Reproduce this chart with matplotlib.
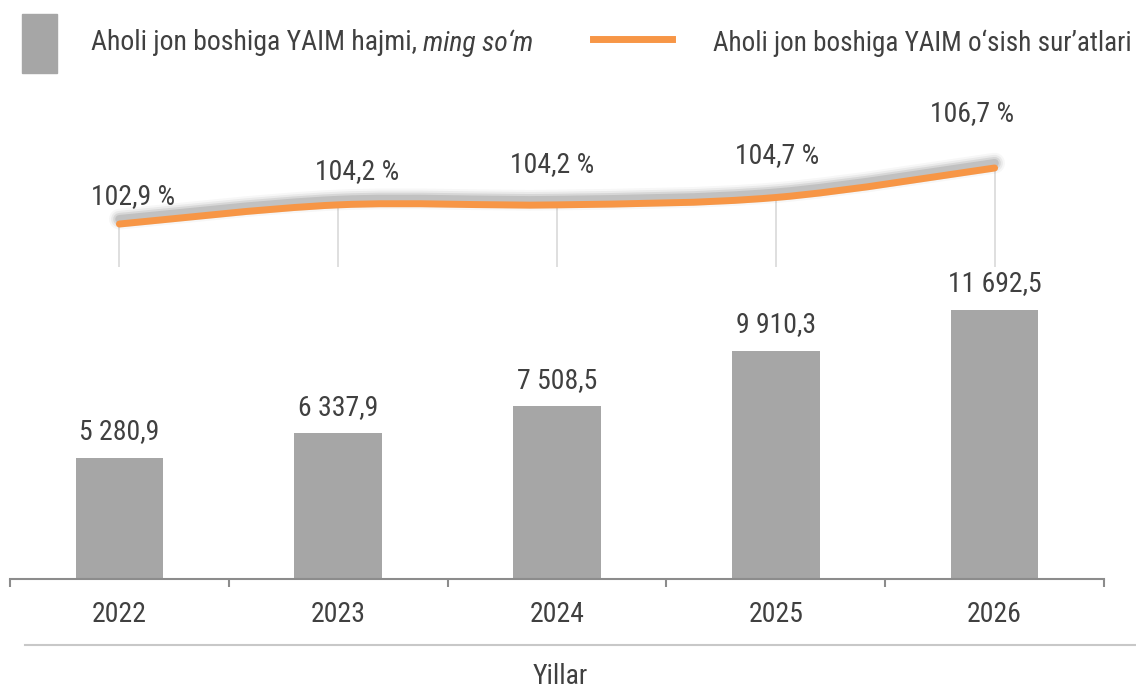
import matplotlib
matplotlib.use("Agg")
import matplotlib.pyplot as plt
import matplotlib.patheffects as pe
from matplotlib.path import Path
from matplotlib.patches import PathPatch, Rectangle
from matplotlib.lines import Line2D
import numpy as np

plt.rcParams['font.family'] = ['Roboto Condensed', 'Roboto', 'DejaVu Sans']

years = ['2022', '2023', '2024', '2025', '2026']
gdp_per_capita = [5280.9, 6337.9, 7508.5, 9910.3, 11692.5]
growth = [102.9, 104.2, 104.2, 104.7, 106.7]
bar_labels = ['5 280,9', '6 337,9', '7 508,5', '9 910,3', '11 692,5']
growth_labels = ['102,9 %', '104,2 %', '104,2 %', '104,7 %', '106,7 %']

W, H = 1136, 691
GRAY = '#A6A6A6'
ORANGE = '#F79646'
TXT = '#404040'
FS = 20

fig = plt.figure(figsize=(W / 100, H / 100), dpi=100)


def fx(px):
    return px / W


def fy(py):
    return 1 - py / H


ax = fig.add_axes([fx(10), fy(579), 1094 / W, 499 / H])
x = np.arange(len(years))
ax.bar(x, gdp_per_capita, width=0.40, color=GRAY, zorder=2)
ax.set_xlim(-0.5, 4.5)
ax.set_ylim(0, 21690)
for xi, v, lab in zip(x, gdp_per_capita, bar_labels):
    ax.annotate(lab, (xi, v), xytext=(0, 26), textcoords='offset pixels',
                ha='center', va='center', fontsize=FS, color=TXT)

for s in ['top', 'right', 'left']:
    ax.spines[s].set_visible(False)
ax.spines['bottom'].set_color('#8C8C8C')
ax.spines['bottom'].set_linewidth(1.5)
ax.set_yticks([])
ax.set_xticks(x)
ax.set_xticklabels(years, fontsize=FS, color=TXT)
ax.tick_params(axis='x', which='major', length=0, pad=16)
ax.set_xticks(np.arange(-0.5, 5, 1), minor=True)
ax.tick_params(axis='x', which='minor', length=6, width=1.5, color='#8C8C8C',
               direction='out')

# growth line on a twin axis
ax2 = ax.twinx()
ax2.set_ylim(78.82, 112.67)
ax2.set_xlim(-0.5, 4.5)
ax2.axis('off')
ax2.vlines(x, 100, growth, color='#D9D9D9', lw=1.2, zorder=1)

pts = np.column_stack([x, growth]).astype(float)
ext = np.vstack([pts[0], pts, pts[-1]])
verts = [pts[0]]
codes = [Path.MOVETO]
for i in range(len(pts) - 1):
    p0, p1, p2, p3 = ext[i], ext[i + 1], ext[i + 2], ext[i + 3]
    verts += [p1 + (p2 - p0) / 6, p2 - (p3 - p1) / 6, p2]
    codes += [Path.CURVE4] * 3
curve = PathPatch(Path(verts, codes), fill=False, edgecolor=ORANGE, lw=5,
                  capstyle='round', zorder=3)
curve.set_path_effects([
    pe.Stroke(offset=(0, 3.5), linewidth=15, foreground='#000000', alpha=0.03),
    pe.Stroke(offset=(0, 3.5), linewidth=12, foreground='#000000', alpha=0.05),
    pe.Stroke(offset=(0, 3.5), linewidth=9, foreground='#000000', alpha=0.08),
    pe.Stroke(offset=(0, 3.5), linewidth=6, foreground='#000000', alpha=0.10),
    pe.Normal(),
])
ax2.add_patch(curve)

label_offsets = [(14, 27), (19, 33), (-5, 40), (1, 42), (-23, 54)]
for xi, v, lab, off in zip(x, growth, growth_labels, label_offsets):
    ax2.annotate(lab, (xi, v), xytext=off, textcoords='offset pixels',
                 ha='center', va='center', fontsize=FS, color=TXT)

# legend
fig.add_artist(Rectangle((fx(22), fy(73)), 35 / W, 59 / H, color=GRAY,
                         transform=fig.transFigure))
t1 = fig.text(fx(91), fy(43), 'Aholi jon boshiga YAIM hajmi, ', fontsize=FS,
              color=TXT, ha='left', va='center')
fig.canvas.draw()
bb = t1.get_window_extent()
fig.text(bb.x1 / W, fy(43), 'ming so\u2018m', fontsize=FS, style='italic',
         color=TXT, ha='left', va='center')
fig.add_artist(Line2D([fx(593), fx(672)], [fy(38.5), fy(38.5)], color=ORANGE,
                      lw=5, transform=fig.transFigure))
fig.text(fx(1132), fy(43), 'Aholi jon boshiga YAIM o\u2018sish sur\u2019atlari',
         fontsize=19.5, color=TXT, ha='right', va='center')

# axis title area
fig.add_artist(Line2D([fx(25), 1], [fy(645), fy(645)], color='#C8C8C8', lw=1.5,
                      transform=fig.transFigure))
fig.text(fx(560), fy(677), 'Yillar', fontsize=FS, color=TXT, ha='center',
         va='center')

fig.savefig('out.png', dpi=100)
